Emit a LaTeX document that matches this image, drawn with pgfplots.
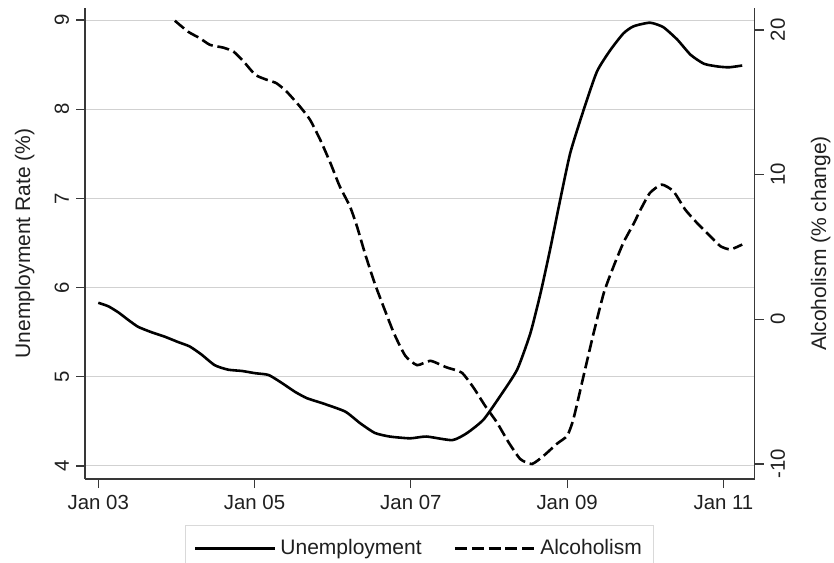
\documentclass[border=0pt]{standalone}
\usepackage{fontspec}
\setmainfont{Liberation Sans}
\usepackage{pgfplots}
\pgfplotsset{compat=1.18}
\definecolor{txt}{gray}{0.12}
\definecolor{spine}{gray}{0.22}
\definecolor{gridc}{gray}{0.82}
\begin{document}
\begin{tikzpicture}
\path[use as bounding box] (0,0) rectangle (417pt,281pt);
\pgfplotsset{
  common/.style={
    at={(42.5pt,41.5pt)}, anchor=south west,
    scale only axis, width=334.85pt, height=235.5pt,
    xmin=2002.83, xmax=2011.40,
    tick align=outside, major tick length=4.5pt,
    tick style={spine, line width=0.6pt},
    axis line style={spine, line width=0.6pt},
    ticklabel style={font=\fontsize{10.2}{12}\selectfont, text=txt},
    label style={font=\fontsize{10.5}{12}\selectfont, text=txt},
    /pgf/number format/assume math mode=true,
  }
}
\begin{axis}[common,
  ymin=3.854, ymax=9.135,
  axis x line*=bottom, axis y line*=left,
  xtick={2003,2005,2007,2009,2011},
  xticklabels={Jan 03,Jan 05,Jan 07,Jan 09,Jan 11},
  ytick={4,5,6,7,8,9},
  ymajorgrids, grid style={gridc, line width=0.5pt},
  yticklabel style={rotate=90, anchor=south},
  ylabel={Unemployment Rate (\%)},
  ylabel style={at={(axis description cs:-0.09,0.5)}, anchor=center},
]
\addplot[black, line width=1.3pt, smooth, tension=0.35] coordinates {
(2003.00,5.83) (2003.13,5.79) (2003.26,5.72) (2003.38,5.64) (2003.51,5.56)
(2003.68,5.50) (2003.85,5.45) (2004.02,5.39) (2004.17,5.34) (2004.32,5.25)
(2004.49,5.13) (2004.66,5.08) (2004.84,5.065) (2005.01,5.04) (2005.18,5.02)
(2005.35,4.93) (2005.52,4.83) (2005.67,4.76) (2005.88,4.70) (2006.16,4.61)
(2006.35,4.48) (2006.54,4.37) (2006.73,4.33) (2006.99,4.31) (2007.20,4.33)
(2007.53,4.29) (2007.72,4.37) (2007.93,4.52) (2008.14,4.78) (2008.36,5.08)
(2008.53,5.49) (2008.66,5.94) (2008.78,6.42) (2008.91,6.98) (2009.04,7.51)
(2009.21,7.99) (2009.38,8.42) (2009.55,8.66) (2009.72,8.85) (2009.85,8.93)
(2010.06,8.97) (2010.23,8.92) (2010.41,8.78) (2010.58,8.61) (2010.75,8.51)
(2010.92,8.48) (2011.07,8.47) (2011.24,8.49)
};
\end{axis}
\begin{axis}[common,
  ymin=-11.04, ymax=21.52,
  axis x line=none, axis y line*=right,
  ytick={-10,0,10,20},
  yticklabel style={rotate=90, anchor=north},
  ylabel={Alcoholism (\% change)},
  ylabel style={at={(axis description cs:1.0985,0.5)}, anchor=center, rotate=0},
  legend columns=2,
  legend image code/.code={\draw[#1] (0pt,0pt) -- (40pt,0pt);},
  legend style={at={(0.5,-0.0977)}, anchor=north, draw=black!15, line width=0.6pt,
    font=\fontsize{10.5}{12}\selectfont, text=txt,
    inner xsep=4pt, inner ysep=5pt,
    /tikz/every even column/.append style={column sep=14pt}},
]
\addlegendimage{black, line width=1.3pt}
\addlegendentry{Unemployment}
\addplot[black, line width=1.3pt, dash pattern=on 6pt off 2.4pt, smooth, tension=0.35] coordinates {
(2003.98,20.64) (2004.15,19.88) (2004.30,19.43) (2004.43,18.97) (2004.60,18.78)
(2004.73,18.51) (2004.86,17.82) (2005.01,16.9) (2005.16,16.55) (2005.28,16.32)
(2005.41,15.74) (2005.58,14.71) (2005.71,13.79) (2005.84,12.41) (2005.97,10.81)
(2006.09,9.19) (2006.22,7.81) (2006.31,6.43) (2006.41,4.6) (2006.52,2.76)
(2006.59,1.72) (2006.78,-0.92) (2006.93,-2.53) (2007.08,-3.17) (2007.25,-2.87)
(2007.46,-3.33) (2007.65,-3.68) (2007.80,-4.71) (2007.95,-5.98) (2008.10,-7.12)
(2008.25,-8.5) (2008.40,-9.66) (2008.55,-10.0) (2008.70,-9.43) (2008.87,-8.6)
(2009.00,-8.05) (2009.08,-6.9) (2009.21,-3.91) (2009.34,-0.92) (2009.47,1.84)
(2009.59,3.6) (2009.72,5.3) (2009.85,6.6) (2009.94,7.59) (2010.06,8.74)
(2010.21,9.31) (2010.36,8.85) (2010.51,7.59) (2010.66,6.67) (2010.81,5.86)
(2010.96,5.06) (2011.09,4.83) (2011.24,5.17)
};
\addlegendentry{Alcoholism}
\end{axis}
\end{tikzpicture}
\end{document}
